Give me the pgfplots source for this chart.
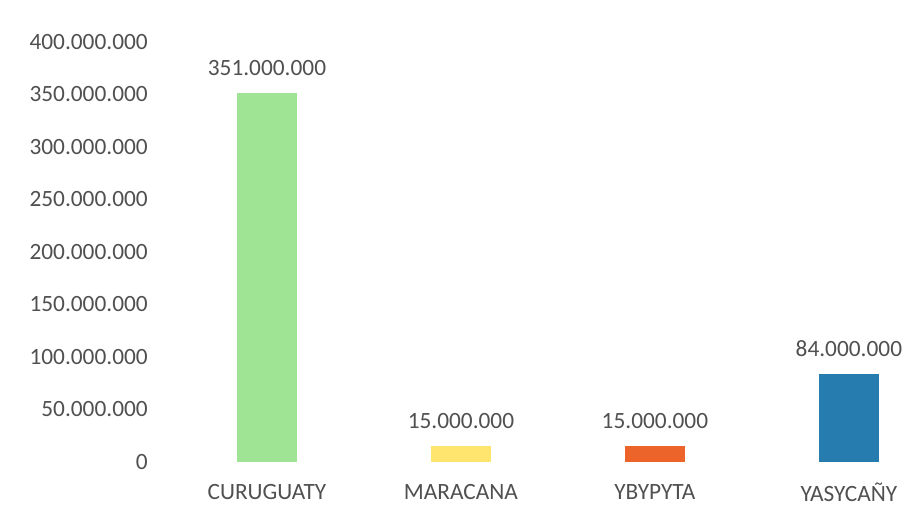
\documentclass[border=0pt]{standalone}
\usepackage{pgfplots}
\pgfplotsset{compat=1.18}
\usepackage{fontspec}
\setmainfont{Carlito}
\definecolor{cgreen}{RGB}{158,228,148}
\definecolor{cyellow}{RGB}{255,228,110}
\definecolor{corange}{RGB}{236,100,42}
\definecolor{cblue}{RGB}{38,124,174}
\definecolor{labgray}{RGB}{80,80,80}
\begin{document}
\begin{tikzpicture}
\useasboundingbox (0,0) rectangle (681.75pt,379.5pt);
\begin{axis}[
  at={(127.5pt,33pt)}, anchor=south west,
  scale only axis, width=554.25pt, height=315pt,
  xmin=-0.5, xmax=3.31, ymin=0, ymax=400,
  axis lines=none, clip=false,
  ybar, bar width=45pt, bar shift=0pt,
  ytick={0,50,100,150,200,250,300,350,400},
  xtick=\empty,
  every node near coord/.style={font=\fontsize{17.5}{20}\selectfont, text=labgray, inner sep=0pt, yshift=13pt},
  nodes near coords={\pgfplotspointmeta},
  point meta=explicit symbolic,
]
\addplot[draw=none, fill=cgreen] coordinates {(0,351) [351.000.000]};
\addplot[draw=none, fill=cyellow] coordinates {(1,15) [15.000.000]};
\addplot[draw=none, fill=corange] coordinates {(2,15) [15.000.000]};
\addplot[draw=none, fill=cblue] coordinates {(3,84) [84.000.000]};
\foreach \v/\t in {0/0,50/50.000.000,100/100.000.000,150/150.000.000,200/200.000.000,250/250.000.000,300/300.000.000,350/350.000.000,400/400.000.000}{
  \edef\tmp{\noexpand\node[anchor=east, inner sep=0pt, text=labgray, font=\noexpand\fontsize{17.5}{20}\noexpand\selectfont] at (axis cs:-0.5,\v) [xshift=-16.5pt] {\t};}
  \tmp
}
\foreach \x/\t in {0/CURUGUATY,1/MARACANA,2/YBYPYTA,3/YASYCAÑY}{
  \edef\tmp{\noexpand\node[anchor=center, inner sep=0pt, text=labgray, font=\noexpand\fontsize{17.5}{20}\noexpand\selectfont] at (axis cs:\x,0) [yshift=-22.5pt] {\t};}
  \tmp
}
\end{axis}
\end{tikzpicture}
\end{document}
